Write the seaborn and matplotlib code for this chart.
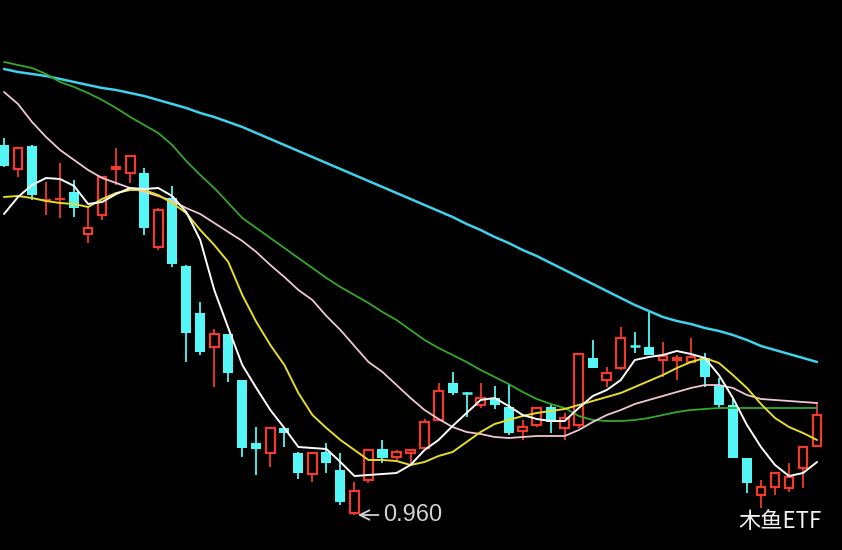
import numpy as np
import pandas as pd
import matplotlib
matplotlib.use("Agg")
import matplotlib.pyplot as plt
import seaborn as sns

# ---- candle data (price) ----
opens = [1.330, 1.306, 1.329, 1.275, 1.276, 1.283, 1.241, 1.260, 1.306, 1.302,
         1.302, 1.228, 1.277, 1.209, 1.162, 1.128, 1.141, 1.095, 1.032, 1.022,
         1.047, 1.022, 1.001, 1.023, 1.005, 0.962, 0.995, 1.026, 1.018, 1.022,
         1.027, 1.055, 1.092, 1.083, 1.070, 1.077, 1.068, 1.044, 1.050, 1.068,
         1.047, 1.050, 1.117, 1.095, 1.107, 1.130, 1.128, 1.115, 1.115, 1.113,
         1.117, 1.090, 1.070, 1.017, 0.980, 0.988, 0.987, 1.007, 1.029]
closes = [1.309, 1.327, 1.280, 1.276, 1.277, 1.267, 1.247, 1.298, 1.308, 1.319,
          1.247, 1.265, 1.211, 1.142, 1.123, 1.141, 1.102, 1.027, 1.026, 1.047,
          1.042, 1.002, 1.022, 1.012, 0.973, 0.984, 1.025, 1.017, 1.023, 1.025,
          1.053, 1.084, 1.082, 1.080, 1.077, 1.070, 1.042, 1.048, 1.067, 1.053,
          1.057, 1.121, 1.107, 1.102, 1.137, 1.128, 1.120, 1.119, 1.117, 1.118,
          1.098, 1.070, 1.017, 0.992, 0.988, 1.002, 0.998, 1.028, 1.060]
highs = [1.337, 1.328, 1.330, 1.293, 1.312, 1.295, 1.268, 1.299, 1.327, 1.320,
         1.307, 1.267, 1.289, 1.210, 1.173, 1.146, 1.141, 1.095, 1.048, 1.048,
         1.048, 1.023, 1.023, 1.032, 1.022, 0.993, 1.026, 1.035, 1.025, 1.025,
         1.056, 1.092, 1.103, 1.083, 1.092, 1.089, 1.091, 1.055, 1.068, 1.070,
         1.062, 1.122, 1.135, 1.108, 1.148, 1.143, 1.163, 1.133, 1.120, 1.137,
         1.122, 1.097, 1.077, 1.017, 0.995, 1.003, 1.012, 1.028, 1.073]
lows = [1.308, 1.298, 1.275, 1.260, 1.257, 1.258, 1.232, 1.255, 1.290, 1.292,
        1.240, 1.225, 1.208, 1.113, 1.120, 1.088, 1.093, 1.018, 1.000, 1.008,
        1.028, 0.996, 0.993, 1.002, 0.970, 0.960, 0.992, 1.012, 1.015, 1.010,
        1.025, 1.055, 1.080, 1.058, 1.067, 1.066, 1.040, 1.035, 1.048, 1.042,
        1.035, 1.047, 1.107, 1.088, 1.105, 1.122, 1.120, 1.098, 1.095, 1.112,
        1.088, 1.067, 1.017, 0.982, 0.967, 0.980, 0.983, 0.987, 1.028]

# ---- moving averages (price) ----
ma5 = [1.261, 1.278, 1.290, 1.297, 1.296, 1.289, 1.271, 1.273, 1.281, 1.287,
       1.286, 1.287, 1.279, 1.263, 1.235, 1.185, 1.147, 1.110, 1.087, 1.065,
       1.047, 1.028, 1.027, 1.026, 1.013, 0.999, 1.000, 1.001, 1.002, 1.010,
       1.025, 1.035, 1.049, 1.062, 1.075, 1.077, 1.069, 1.060, 1.056, 1.054,
       1.054, 1.067, 1.079, 1.085, 1.095, 1.115, 1.118, 1.120, 1.124, 1.121,
       1.117, 1.100, 1.077, 1.050, 1.028, 1.010, 0.999, 1.002, 1.013]
ma10 = [1.278, 1.279, 1.277, 1.274, 1.272, 1.271, 1.268, 1.276, 1.282, 1.285,
        1.285, 1.280, 1.272, 1.262, 1.245, 1.230, 1.213, 1.180, 1.153, 1.130,
        1.110, 1.082, 1.060, 1.047, 1.035, 1.025, 1.015, 1.015, 1.014, 1.010,
        1.013, 1.019, 1.023, 1.033, 1.043, 1.051, 1.055, 1.059, 1.062, 1.064,
        1.066, 1.070, 1.074, 1.078, 1.082, 1.088, 1.094, 1.100, 1.107, 1.113,
        1.117, 1.112, 1.100, 1.087, 1.071, 1.057, 1.048, 1.042, 1.035]
ma20 = [1.383, 1.371, 1.353, 1.338, 1.325, 1.315, 1.305, 1.297, 1.292, 1.287,
        1.283, 1.279, 1.274, 1.267, 1.261, 1.252, 1.243, 1.234, 1.223, 1.210,
        1.198, 1.185, 1.175, 1.159, 1.145, 1.129, 1.113, 1.103, 1.090, 1.077,
        1.065, 1.056, 1.048, 1.043, 1.041, 1.038, 1.037, 1.038, 1.039, 1.039,
        1.039, 1.045, 1.053, 1.060, 1.065, 1.071, 1.075, 1.079, 1.083, 1.087,
        1.090, 1.090, 1.087, 1.080, 1.076, 1.075, 1.074, 1.073, 1.072]
ma30 = [1.413, 1.410, 1.407, 1.401, 1.393, 1.388, 1.382, 1.375, 1.367, 1.358,
        1.350, 1.342, 1.330, 1.314, 1.300, 1.287, 1.272, 1.257, 1.247, 1.237,
        1.227, 1.217, 1.207, 1.197, 1.188, 1.180, 1.172, 1.163, 1.155, 1.145,
        1.135, 1.127, 1.120, 1.113, 1.105, 1.098, 1.091, 1.083, 1.076, 1.071,
        1.067, 1.059, 1.055, 1.054, 1.054, 1.055, 1.057, 1.060, 1.063, 1.065,
        1.066, 1.067, 1.067, 1.067, 1.067, 1.067, 1.067, 1.067, 1.067]
ma60 = [1.406, 1.403, 1.401, 1.399, 1.396, 1.393, 1.390, 1.387, 1.385, 1.382,
        1.379, 1.375, 1.371, 1.367, 1.362, 1.358, 1.353, 1.348, 1.342, 1.336,
        1.330, 1.324, 1.318, 1.312, 1.306, 1.300, 1.294, 1.288, 1.282, 1.276,
        1.270, 1.264, 1.258, 1.251, 1.245, 1.238, 1.232, 1.225, 1.219, 1.212,
        1.205, 1.198, 1.191, 1.184, 1.177, 1.170, 1.164, 1.158, 1.154, 1.151,
        1.147, 1.144, 1.140, 1.135, 1.129, 1.125, 1.121, 1.117, 1.113]

low_label = "0.960"
watermark = "木鱼ETF"

UP = "#f03a2c"
DOWN = "#54f6f6"

sns.set_style("dark")
plt.rcParams['font.family'] = ['Liberation Sans', 'DejaVu Sans']

fig = plt.figure(figsize=(8.42, 5.5), dpi=100, facecolor="black")
ax = fig.add_axes([0, 0, 1, 1])
ax.set_facecolor("black")

n = len(opens)
idx = np.arange(n)
w = 0.72
for i in range(n):
    o, c, h, l = opens[i], closes[i], highs[i], lows[i]
    top, bot = max(o, c), min(o, c)
    if c >= o:
        ax.vlines(i, top, h, color=UP, lw=1.3, zorder=2)
        ax.vlines(i, l, bot, color=UP, lw=1.3, zorder=2)
        if top - bot < 0.002:
            ax.hlines((top + bot) / 2, i - w / 2, i + w / 2, color=UP, lw=1.6, zorder=2)
        else:
            ax.bar(i, top - bot, bottom=bot, width=w - 0.1, facecolor="black",
                   edgecolor=UP, linewidth=1.6, zorder=2)
    else:
        ax.vlines(i, l, h, color=DOWN, lw=1.3, zorder=2)
        if top - bot < 0.003:
            ax.hlines((top + bot) / 2, i - w / 2, i + w / 2, color=DOWN, lw=1.8, zorder=2)
        else:
            ax.bar(i, top - bot, bottom=bot, width=w, color=DOWN, linewidth=0, zorder=2)

df = pd.DataFrame({"i": idx, "ma5": ma5, "ma10": ma10, "ma20": ma20,
                   "ma30": ma30, "ma60": ma60})
styles = [("ma60", "#3ed2ec", 1.8), ("ma30", "#35a82a", 1.3),
          ("ma20", "#f0c6d4", 1.3), ("ma10", "#e6dc2a", 1.4),
          ("ma5", "#ffffff", 1.4)]
for col, colr, lw in styles:
    sns.lineplot(data=df, x="i", y=col, ax=ax, color=colr, lw=lw, zorder=3)

ax.annotate(low_label, xy=(25.25, 0.960), xytext=(27.05, 0.960),
            color="#d2d2d2", fontsize=17, ha="left", va="center",
            arrowprops=dict(arrowstyle="->", color="#d2d2d2", lw=1.3,
                            shrinkA=1, shrinkB=0), zorder=5)

fig.text(738 / 842, 1 - 521 / 550, watermark, color="#f2f2f2", fontsize=16,
         ha="left", va="center", family=["Noto Sans CJK SC", "DejaVu Sans"])

ax.set_xlim(-0.285, 59.78)
ax.set_ylim(0.925, 1.475)
ax.set_axis_off()

fig.savefig("out.png", dpi=100, facecolor="black")
